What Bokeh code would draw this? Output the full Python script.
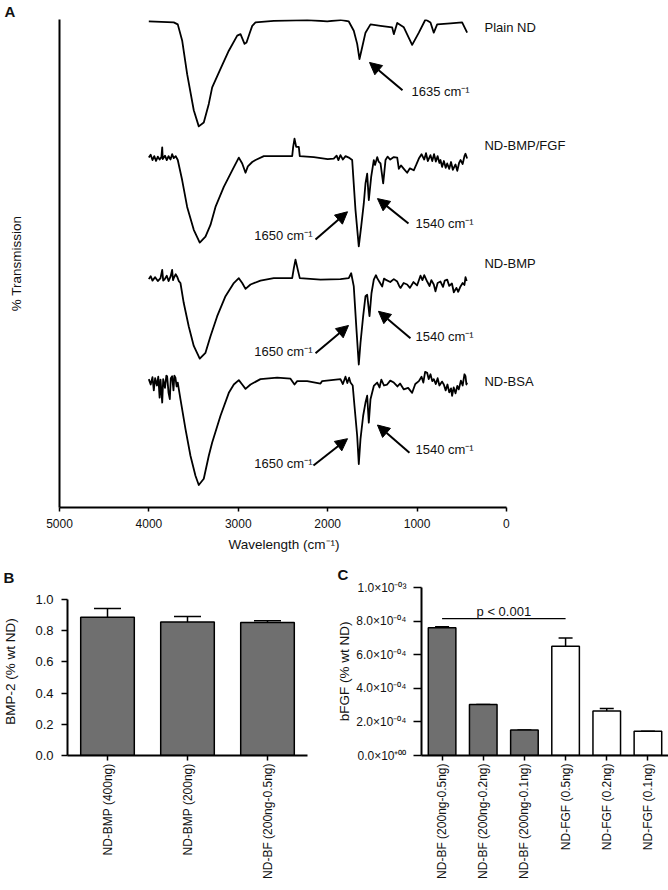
import math
from bokeh.plotting import figure
from bokeh.models import (Range1d, FactorRange, Label, Arrow, NormalHead, Whisker, TeeHead,
                          ColumnDataSource, FixedTicker, CustomJSTickFormatter, Title)
from bokeh.layouts import column, row
from bokeh.embed import file_html
from bokeh.resources import INLINE

FONT = "Liberation Sans"
GRAY = "#6f6f6f"
INK = "#111111"

# ---------------- Panel A : FTIR spectra (wavenumber, % transmission) ----------------
plain_wn = [4001, 3722, 3677, 3628, 3572, 3498, 3442, 3386, 3330, 3292, 3199, 3106, 3012, 2975, 2930,
            2908, 2871, 2844, 2807, 2603, 2229, 2005, 1857, 1764, 1708, 1670, 1644, 1614, 1577, 1521,
            1409, 1279, 1260, 1222, 1148, 1055, 980, 906, 850, 813, 775, 626, 496, 440]
plain_t = [99.6, 99.4, 99.0, 95.7, 88.8, 81.4, 78.1, 78.9, 82.7, 86.1, 89.9, 93.6, 96.7, 97.0, 95.0,
           95.3, 97.3, 98.7, 99.4, 99.7, 99.9, 99.6, 99.9, 99.6, 97.7, 95.0, 91.9, 94.3, 97.3, 99.0,
           98.7, 98.4, 97.0, 99.3, 98.4, 94.8, 97.3, 100.0, 99.4, 97.3, 99.0, 99.2, 99.4, 97.3]

bmpfgf_wn = [4001, 3980, 3960, 3940, 3920, 3900, 3880, 3860, 3851, 3845, 3820, 3800, 3780, 3758, 3740,
             3722, 3700, 3677, 3628, 3572, 3498, 3431, 3367, 3311, 3255, 3162, 3068, 2994, 2956, 2919,
             2893, 2844, 2807, 2714, 2397, 2386, 2371, 2352, 2323, 2312, 2155, 2000, 1932, 1900, 1880,
             1857, 1830, 1800, 1764, 1726, 1689, 1652, 1625, 1596, 1577, 1558, 1540, 1513, 1484, 1470,
             1446, 1430, 1409, 1379, 1353, 1330, 1300, 1260, 1222, 1204, 1180, 1148, 1111, 1080, 1037,
             1010, 980, 950, 920, 900, 880, 850, 830, 810, 790, 770, 750, 738, 720, 700,
             680, 663, 640, 620, 600, 570, 550, 530, 514, 490, 470, 458, 440]
bmpfgf_t = [71.7, 72.3, 71.2, 72.0, 71.0, 71.9, 71.3, 71.8, 73.8, 71.4, 72.1, 71.2, 72.0, 71.3, 72.4,
            71.6, 72.0, 71.2, 67.1, 61.6, 56.9, 54.3, 55.5, 57.9, 61.6, 65.7, 69.1, 71.7, 70.5, 68.6,
            69.9, 70.8, 71.2, 72.0, 72.0, 73.9, 75.6, 73.9, 73.9, 72.0, 71.8, 71.4, 71.5, 72.1, 71.2,
            72.2, 71.3, 72.0, 71.7, 71.2, 61.0, 53.5, 57.6, 62.3, 66.4, 68.4, 63.0, 67.8, 71.2, 70.2,
            71.8, 70.9, 70.5, 66.4, 71.2, 71.9, 71.3, 71.8, 71.7, 69.4, 70.1, 69.4, 68.6, 69.5, 69.1,
            70.2, 71.5, 72.4, 71.3, 72.6, 71.0, 72.2, 71.0, 72.4, 70.9, 72.0, 70.6, 71.2, 69.8, 71.0,
            69.6, 70.5, 69.4, 70.8, 69.2, 70.3, 69.0, 70.6, 71.2, 70.4, 72.0, 72.5, 71.5]

bmp_wn = [4001, 3980, 3960, 3930, 3900, 3870, 3851, 3840, 3826, 3800, 3780, 3758, 3740, 3730, 3722,
          3700, 3684, 3665, 3647, 3610, 3554, 3498, 3431, 3367, 3311, 3236, 3143, 3050, 2994, 2956,
          2919, 2863, 2752, 2603, 2397, 2379, 2360, 2334, 2312, 2080, 1857, 1764, 1737, 1708, 1678,
          1652, 1633, 1603, 1577, 1558, 1532, 1510, 1484, 1460, 1446, 1420, 1390, 1370, 1353, 1300,
          1260, 1222, 1200, 1185, 1150, 1111, 1080, 1040, 1000, 962, 940, 920, 887, 860, 840,
          813, 794, 770, 738, 710, 690, 663, 640, 610, 589, 560, 540, 514, 490, 470,
          458, 445]
bmp_t = [46.8, 47.4, 46.5, 47.2, 46.4, 47.0, 48.7, 46.5, 46.7, 47.5, 46.4, 47.3, 48.7, 46.6, 47.0,
         47.8, 47.3, 46.4, 46.0, 41.9, 37.1, 33.1, 30.5, 31.7, 35.1, 39.2, 43.3, 46.0, 47.0, 46.0,
         44.8, 45.7, 46.5, 47.0, 47.0, 49.0, 50.8, 48.7, 47.0, 46.7, 46.8, 47.0, 48.0, 45.3, 36.5,
         29.3, 33.7, 39.2, 43.3, 43.6, 39.2, 43.9, 46.7, 47.6, 47.0, 46.2, 45.3, 46.9, 46.7, 46.2,
         46.8, 46.3, 45.4, 45.0, 46.0, 45.7, 45.0, 46.2, 45.5, 47.5, 46.6, 47.6, 46.3, 45.4, 46.6,
         45.7, 44.3, 46.0, 46.3, 45.2, 46.5, 46.7, 45.4, 45.9, 44.1, 45.0, 44.2, 45.3, 46.0, 45.6,
         47.2, 46.4]

bsa_wn = [4001, 3980, 3960, 3945, 3930, 3910, 3895, 3880, 3870, 3851, 3840, 3820, 3805, 3796, 3780,
          3766, 3755, 3740, 3725, 3715, 3703, 3690, 3677, 3647, 3591, 3535, 3479, 3442, 3386, 3330,
          3292, 3199, 3106, 3050, 2994, 2956, 2919, 2863, 2752, 2565, 2416, 2371, 2341, 2229, 2080,
          2062, 1857, 1830, 1801, 1780, 1760, 1745, 1720, 1700, 1670, 1652, 1633, 1603, 1577, 1558,
          1540, 1521, 1484, 1446, 1420, 1400, 1370, 1335, 1300, 1260, 1220, 1190, 1148, 1100, 1055,
          1020, 980, 950, 930, 910, 887, 870, 850, 830, 813, 790, 770, 750, 720, 701,
          680, 660, 640, 620, 608, 590, 570, 550, 533, 510, 490, 470, 458, 448, 440]
bsa_t = [26.3, 25.2, 26.7, 24.0, 26.5, 25.0, 26.8, 22.5, 26.2, 21.5, 26.3, 24.5, 27.0, 26.9, 23.5,
         22.2, 26.5, 26.9, 24.0, 27.0, 26.6, 24.8, 25.6, 22.2, 16.1, 10.6, 6.5, 4.6, 5.9, 10.6,
         13.3, 18.8, 23.5, 25.2, 26.1, 25.2, 24.3, 25.2, 26.3, 26.6, 26.4, 25.2, 25.9, 25.9, 25.4,
         25.9, 26.3, 25.3, 26.8, 25.5, 26.6, 25.6, 25.0, 20.8, 14.7, 8.9, 14.0, 18.8, 21.5, 22.9,
         17.4, 22.2, 24.9, 25.6, 24.6, 26.2, 25.0, 25.2, 26.0, 25.6, 24.8, 25.4, 24.2, 24.5, 23.5,
         25.3, 25.9, 26.8, 25.6, 27.8, 27.6, 26.3, 27.3, 25.9, 26.3, 25.3, 26.5, 25.0, 25.8, 25.2,
         24.0, 25.2, 23.6, 24.4, 22.9, 24.6, 23.4, 24.9, 24.2, 26.0, 25.0, 27.3, 26.9, 25.2, 25.6]

A_XTICKS = [0, 1000, 2000, 3000, 4000, 5000]
A_XTITLE = "Wavelength (cm⁻¹)"
A_YTITLE = "% Transmission"

# sample name labels (wavenumber, transmission)
A_NAMES = ["Plain ND", "ND-BMP/FGF", "ND-BMP", "ND-BSA"]
A_NAME_W = [246, 246, 246, 246]
A_NAME_T = [98.4, 74.1, 50.0, 25.9]

# peak annotations: arrows (tail -> head) and texts
ARROW_TAIL_W = [1163, 2136, 1096, 2136, 1074, 2159, 1085]
ARROW_TAIL_T = [85.5, 54.9, 58.2, 31.6, 34.7, 8.6, 11.2]
ARROW_HEAD_W = [1532, 1778, 1443, 1767, 1432, 1778, 1443]
ARROW_HEAD_T = [91.2, 60.6, 63.3, 37.3, 40.2, 14.1, 16.9]
PEAK_TEXT = ["1635 cm⁻¹", "1650 cm⁻¹", "1540 cm⁻¹", "1650 cm⁻¹", "1540 cm⁻¹", "1650 cm⁻¹", "1540 cm⁻¹"]
PEAK_TEXT_W = [1063, 2170, 1018, 2170, 1018, 2170, 1018]
PEAK_TEXT_T = [85.3, 55.7, 58.2, 32.0, 35.1, 9.0, 11.8]
PEAK_ALIGN = ["left", "right", "left", "right", "left", "right", "left"]

# ---------------- Panel B ----------------
B_CATS = ["ND-BMP (400ng)", "ND-BMP (200ng)", "ND-BF (200ng-0.5ng)"]
B_MEAN = [0.887, 0.855, 0.852]
B_ERR = [0.056, 0.036, 0.012]
B_YTICKS = [0.0, 0.2, 0.4, 0.6, 0.8, 1.0]
B_YLABELS = ["0.0", "0.2", "0.4", "0.6", "0.8", "1.0"]

# ---------------- Panel C ----------------
C_CATS = ["ND-BF (200ng-0.5ng)", "ND-BF (200ng-0.2ng)", "ND-BF (200ng-0.1ng)",
          "ND-FGF (0.5ng)", "ND-FGF (0.2ng)", "ND-FGF (0.1ng)"]
C_MEAN = [7.6e-4, 3.03e-4, 1.52e-4, 6.5e-4, 2.65e-4, 1.45e-4]
C_ERR = [0.06e-4, 0.0, 0.0, 0.5e-4, 0.15e-4, 0.0]
C_FILL = [GRAY, GRAY, GRAY, "white", "white", "white"]
C_YTICKS = [0.0, 2e-4, 4e-4, 6e-4, 8e-4, 1e-3]
C_YLABELS = ["0.0×10⁺⁰⁰", "2.0×10⁻⁰⁴", "4.0×10⁻⁰⁴", "6.0×10⁻⁰⁴", "8.0×10⁻⁰⁴", "1.0×10⁻⁰³"]
P_TEXT = "p < 0.001"
P_LINE_Y = 8.15e-4
P_TEXT_Y = 8.6e-4

LABEL_JS = """
for (let i = 0; i < tvals.length; i++) {
  if (Math.abs(tvals[i] - tick) < 1e-12) { return tlabels[i]; }
}
return "";
"""


def style_axes(p, tick_size="12px"):
    for ax in (p.xaxis[0], p.yaxis[0]):
        ax.axis_line_width = 2
        ax.axis_line_color = "black"
        ax.major_tick_line_width = 1.5
        ax.major_tick_line_color = "black"
        ax.minor_tick_line_color = None
        ax.major_tick_in = 0
        ax.major_label_text_font = FONT
        ax.major_label_text_font_size = tick_size
        ax.major_label_text_color = INK
        ax.axis_label_text_font = FONT
        ax.axis_label_text_font_size = "13.5px"
        ax.axis_label_text_font_style = "normal"
        ax.axis_label_text_color = INK
    p.grid.visible = False
    p.outline_line_color = None
    p.background_fill_color = None
    p.border_fill_color = None


def panel_letter(p, letter, offset, standoff):
    p.title.text = letter
    p.title.align = "left"
    p.title.offset = offset
    p.title.standoff = standoff
    p.title.text_font = FONT
    p.title.text_font_size = "15px"
    p.title.text_font_style = "bold"
    p.title.text_color = INK


# ===== Panel A figure =====
pA = figure(width=668, height=557, x_range=Range1d(5000, -1052), y_range=Range1d(0, 100),
            output_backend="svg", toolbar_location=None,
            min_border_left=59, min_border_right=68, min_border_top=17, min_border_bottom=50)
style_axes(pA)
panel_letter(pA, "A", -55, 0)
pA.xaxis.bounds = (0, 5000)
pA.xaxis.ticker = FixedTicker(ticks=A_XTICKS)
pA.xaxis.major_tick_out = 4
pA.xaxis.major_label_standoff = 7
pA.yaxis.ticker = FixedTicker(ticks=[])
pA.yaxis.major_tick_out = 0
pA.yaxis.axis_label = A_YTITLE
pA.yaxis.axis_label_standoff = 36
# x-axis title centred under the drawn axis (0-5000), not under the wider frame
pA.add_layout(Title(text=A_XTITLE, align="left", offset=169, standoff=9, text_font=FONT,
                    text_font_size="13.5px", text_font_style="normal", text_color=INK), "below")

for wn, t in ((plain_wn, plain_t), (bmpfgf_wn, bmpfgf_t), (bmp_wn, bmp_t), (bsa_wn, bsa_t)):
    pA.line(wn, t, line_color="black", line_width=1.8, line_join="round")

for i in range(len(A_NAMES)):
    pA.add_layout(Label(x=A_NAME_W[i], y=A_NAME_T[i], text=A_NAMES[i], text_font=FONT,
                        text_font_size="13px", text_baseline="middle", text_align="left",
                        text_color=INK))

for i in range(len(ARROW_TAIL_W)):
    pA.add_layout(Arrow(end=NormalHead(size=12, fill_color="black", line_color="black"),
                        x_start=ARROW_TAIL_W[i], y_start=ARROW_TAIL_T[i],
                        x_end=ARROW_HEAD_W[i], y_end=ARROW_HEAD_T[i],
                        line_width=2, line_color="black"))
    pA.add_layout(Label(x=PEAK_TEXT_W[i], y=PEAK_TEXT_T[i], text=PEAK_TEXT[i], text_font=FONT,
                        text_font_size="13px", text_baseline="middle", text_align=PEAK_ALIGN[i],
                        text_color=INK))

# ===== Panel B figure =====
pB = figure(width=334, height=333, x_range=FactorRange(*B_CATS), y_range=Range1d(0, 1.0769),
            output_backend="svg", toolbar_location=None,
            min_border_left=67, min_border_right=27, min_border_top=30, min_border_bottom=135)
style_axes(pB)
panel_letter(pB, "B", -64, 3)
srcB = ColumnDataSource(dict(cat=B_CATS, mean=B_MEAN,
                             upper=[m + e for m, e in zip(B_MEAN, B_ERR)]))
pB.vbar(x="cat", top="mean", width=0.67, source=srcB, fill_color=GRAY,
        line_color="black", line_width=1.5)
pB.add_layout(Whisker(source=srcB, base="cat", lower="mean", upper="upper",
                      upper_head=TeeHead(size=27, line_width=1.5), lower_head=None,
                      line_width=1.5))
pB.yaxis.ticker = FixedTicker(ticks=B_YTICKS)
pB.yaxis.formatter = CustomJSTickFormatter(args=dict(tvals=B_YTICKS, tlabels=B_YLABELS), code=LABEL_JS)
pB.yaxis.major_label_text_font_size = "13px"
pB.yaxis.major_tick_out = 6
pB.yaxis.major_label_standoff = 8
pB.yaxis.axis_label = "BMP-2 (% wt ND)"
pB.yaxis.axis_label_standoff = 14
pB.yaxis.bounds = (0, 1.0)
pB.xaxis.major_tick_out = 5
pB.xaxis.major_label_orientation = math.pi / 2
pB.xaxis.major_label_standoff = 3

# ===== Panel C figure =====
pC = figure(width=334, height=333, x_range=FactorRange(*C_CATS), y_range=Range1d(0, 1.0e-3),
            output_backend="svg", toolbar_location=None,
            min_border_left=87, min_border_right=0, min_border_top=30, min_border_bottom=135)
style_axes(pC)
panel_letter(pC, "C", -84, 10)
srcC = ColumnDataSource(dict(cat=C_CATS, mean=C_MEAN, fill=C_FILL,
                             upper=[m + e for m, e in zip(C_MEAN, C_ERR)]))
pC.vbar(x="cat", top="mean", width=0.67, source=srcC, fill_color="fill",
        line_color="black", line_width=1.5)
pC.add_layout(Whisker(source=srcC, base="cat", lower="mean", upper="upper",
                      upper_head=TeeHead(size=14, line_width=1.5), lower_head=None,
                      line_width=1.5))
pC.line(x=[C_CATS[0], C_CATS[3]], y=[P_LINE_Y, P_LINE_Y], line_color="black", line_width=1.3)
pC.add_layout(Label(x=2.0, y=P_TEXT_Y, text=P_TEXT, text_font=FONT, text_font_size="13px",
                    text_align="center", text_baseline="middle", text_color=INK))
pC.yaxis.ticker = FixedTicker(ticks=C_YTICKS)
pC.yaxis.formatter = CustomJSTickFormatter(args=dict(tvals=C_YTICKS, tlabels=C_YLABELS), code=LABEL_JS)
pC.yaxis.major_tick_out = 8
pC.yaxis.major_label_standoff = 7
pC.yaxis.axis_label = "bFGF (% wt ND)"
pC.yaxis.axis_label_standoff = 1
pC.xaxis.major_tick_out = 5
pC.xaxis.major_label_orientation = math.pi / 2
pC.xaxis.major_label_standoff = 3

layout = column(pA, row(pB, pC))
open("out.html", "w").write(file_html(layout, INLINE))
